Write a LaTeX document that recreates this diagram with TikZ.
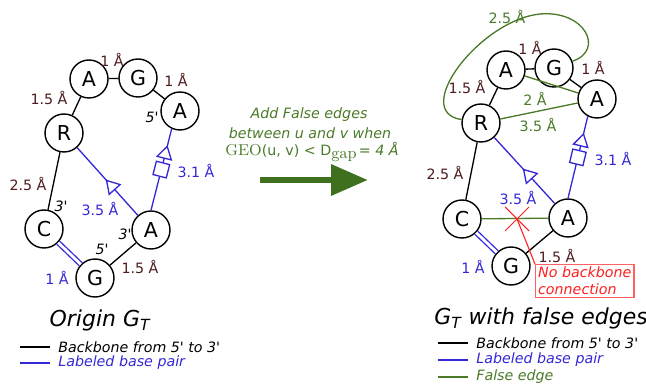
\documentclass[tikz,border=0pt]{standalone}
\usepackage[no-math]{fontspec}
\setmainfont{DejaVu Sans}
\usetikzlibrary{arrows.meta,decorations.markings}

\definecolor{distbrown}{RGB}{77,28,28}
\definecolor{pairblue}{RGB}{52,40,214}
\definecolor{falsegreen}{RGB}{74,122,40}
\definecolor{rulegreen}{RGB}{62,112,30}
\definecolor{nored}{RGB}{255,30,30}

\tikzset{
  base/.style={circle, draw, line width=0.8pt, minimum size=0.76cm, inner sep=0pt, fill=white, font=\fontsize{11.7}{12}\selectfont},
  backbone/.style={line width=0.75pt},
  pair/.style={draw=pairblue, line width=0.75pt},
  falseedge/.style={draw=falsegreen, line width=0.75pt},
  dist/.style={inner sep=0pt, text=distbrown, font=\fontsize{8.1}{9}\selectfont},
  pairdist/.style={dist, text=pairblue},
  falsedist/.style={dist, text=falsegreen},
  prime/.style={inner sep=0pt, font=\fontsize{8.1}{9}\selectfont\itshape},
  legend/.style={inner sep=0pt, anchor=west, font=\fontsize{8.1}{9}\selectfont\itshape},
  title/.style={inner sep=0pt, font=\fontsize{12.5}{14}\selectfont\itshape},
  tripoint/.style={postaction={decorate, decoration={markings, mark=at position #1 with {\arrow{Triangle[length=8pt, width=9.5pt, fill=white, line width=0.75pt]}}}}},
  sqpoint/.style={postaction={decorate, decoration={markings, mark=at position #1 with {\draw[fill=white, line width=0.75pt] (-3.9pt,-3.9pt) rectangle (3.9pt,3.9pt);}}}},
}

\begin{document}
\begin{tikzpicture}[x=0.02cm, y=-0.02cm]
    \useasboundingbox (0,0) rectangle (646,388);

    % origin graph
    \node (oA1) [base] at (89,79) {A};
    \node (oG1) [base] at (138,78) {G};
    \node (oA2) [base] at (180,111) {A};
    \node (oR) [base] at (64,133) {R};
    \node (oC) [base] at (44,229) {C};
    \node (oA3) [base] at (151,230) {A};
    \node (oG2) [base] at (95,278) {G};

    \draw[backbone] (oG1) -- (oA1);
    \draw[backbone] (oA2) -- (oG1);
    \draw[backbone] (oA1) -- (oR);
    \draw[backbone] (oR) -- (oC);
    \draw[backbone] (oG2) -- (oA3);
    \draw[pair, tripoint=0.53] (oA3) -- (oR);
    \draw[pair, sqpoint=0.5, tripoint=0.8] (oA3.north) -- (oA2.245);
    \draw[draw=pairblue, line width=0.75pt, double=white, double distance=1.6pt] (oC) -- (oG2);

    \node (oD1) [dist] at (112,60) {1 Å};
    \node (oD2) [dist] at (176,80) {1 Å};
    \node (oD3) [dist] at (49,98) {1.5 Å};
    \node (oD4) [dist] at (28,184) {2.5 Å};
    \node (oD5) [dist] at (140,267) {1.5 Å};
    \node (oD6) [pairdist] at (100,209) {3.5 Å};
    \node (oD7) [pairdist] at (196,171) {3.1 Å};
    \node (oD8) [pairdist] at (57,278) {1 Å};
    \node (oP1) [prime] at (152,117) {5\textquotesingle};
    \node (oP2) [prime] at (61,206) {3\textquotesingle};
    \node (oP3) [prime] at (125,234) {3\textquotesingle};
    \node (oP4) [prime] at (102,249) {5\textquotesingle};

    % rule in the middle
    \node (ruleA) [text=falsegreen, font=\fontsize{8.1}{9}\selectfont\itshape] at (309,115) {Add False edges};
    \node (ruleB) [text=falsegreen, font=\fontsize{8.1}{9}\selectfont\itshape] at (310,133) {between u and v when};
    \node (ruleC) [text=falsegreen, font=\fontsize{8.1}{9}\selectfont] at (312,152) {{\fontsize{9.4}{10}\selectfont$\mathrm{GEO}$}(u, v) < D\raisebox{-0.45ex}{\fontsize{9.4}{10}\selectfont$\mathrm{gap}$}\,{\itshape = 4 Å}};
    \coordinate (rulestart) at (260,180);
    \coordinate (ruleend) at (368,180);
    \draw[rulegreen, line width=3.8pt, -{Triangle[length=21pt, width=17pt]}] (rulestart) -- (ruleend);

    % graph with false edges
    \node (fA1) [base] at (506,70) {A};
    \node (fG1) [base] at (554,68) {G};
    \node (fA2) [base] at (597,99) {A};
    \node (fR) [base] at (481,123) {R};
    \node (fC) [base] at (462,219) {C};
    \node (fA3) [base] at (568,218) {A};
    \node (fG2) [base] at (511,266) {G};

    \draw[falseedge] (fR.170) .. controls (410,112) and (480,20) .. (540,14) .. controls (585,10) and (605,50) .. (fG1.20);
    \draw[falseedge] (fA1) -- (fA2);
    \draw[falseedge] (fR) -- (fA2);
    \draw[falseedge] (fC) -- (fA3);
    \draw[backbone] (fG1) -- (fA1);
    \draw[backbone] (fA2) -- (fG1);
    \draw[backbone] (fA1) -- (fR);
    \draw[backbone] (fR) -- (fC);
    \draw[backbone] (fG2) -- (fA3);
    \draw[pair, tripoint=0.53] (fA3) -- (fR);
    \draw[pair, sqpoint=0.5, tripoint=0.8] (fA3.north) -- (fA2.242);
    \draw[draw=pairblue, line width=0.75pt, double=white, double distance=1.6pt] (fC) -- (fG2);

    \node (fD1) [dist] at (530,48) {1 Å};
    \node (fD2) [dist] at (593,68) {1 Å};
    \node (fD3) [dist] at (467,87) {1.5 Å};
    \node (fD4) [dist] at (445,173) {2.5 Å};
    \node (fD5) [dist] at (557,256) {1.5 Å};
    \node (fD6) [pairdist] at (518,198) {3.5 Å};
    \node (fD7) [pairdist] at (613,159) {3.1 Å};
    \node (fD8) [pairdist] at (473,267) {1 Å};
    \node (fD9) [falsedist] at (507,17) {2.5 Å};
    \node (fD10) [falsedist] at (535,99) {2 Å};
    \node (fD11) [falsedist] at (538,125) {3.5 Å};

    % no backbone between C and A
    \coordinate (cut) at (517,219);
    \draw[nored, line width=0.6pt] (505,207) -- (529,231) (505,231) -- (529,207);
    \node (nobox) [draw=nored!70, line width=0.6pt, text=nored, align=left, anchor=north west, inner sep=1.5pt, font=\fontsize{8.1}{9.5}\selectfont\itshape] at (535,264) {No backbone\\connection};
    \draw[nored, line width=0.6pt] (cut) -- (nobox.north west);

    % titles and legends
    \node (otitle) [title] at (100,320) {Origin G\textsubscript{T}};
    \coordinate (oL1a) at (20,347);
    \coordinate (oL1b) at (50,347);
    \coordinate (oL2a) at (20,363);
    \coordinate (oL2b) at (50,363);
    \draw[backbone] (oL1a) -- (oL1b);
    \draw[pair] (oL2a) -- (oL2b);
    \node (oleg1) [legend] at (58,347) {Backbone from 5\textquotesingle\ to 3\textquotesingle};
    \node (oleg2) [legend, text=pairblue] at (58,363) {Labeled base pair};

    \node (ftitle) [title] at (541,318) {G\textsubscript{T} with false edges};
    \coordinate (fL1a) at (438,343);
    \coordinate (fL1b) at (468,343);
    \coordinate (fL2a) at (438,360);
    \coordinate (fL2b) at (468,360);
    \coordinate (fL3a) at (438,377);
    \coordinate (fL3b) at (468,377);
    \draw[backbone] (fL1a) -- (fL1b);
    \draw[pair] (fL2a) -- (fL2b);
    \draw[falseedge] (fL3a) -- (fL3b);
    \node (fleg1) [legend] at (476,343) {Backbone from 5\textquotesingle\ to 3\textquotesingle};
    \node (fleg2) [legend, text=pairblue] at (476,360) {Labeled base pair};
    \node (fleg3) [legend, text=falsegreen] at (476,377) {False edge};
\end{tikzpicture}
\end{document}
